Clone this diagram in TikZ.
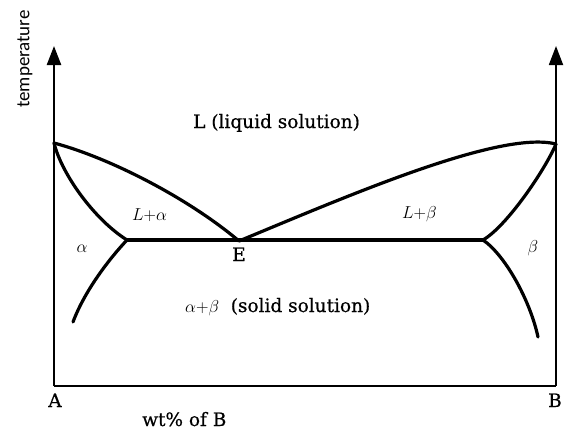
\documentclass[tikz,border=0pt]{standalone}
\usepackage{fontspec}
\setmainfont[FakeBold=0.6]{DejaVu Serif}
\newfontfamily\axisfont{Carlito}
\usetikzlibrary{arrows.meta}
\tikzset{
  curve/.style={line width=3.2pt, line cap=round, line join=round},
  axis/.style={line width=2.4pt, -{Triangle[length=19pt,width=14pt]}},
  lbl/.style={inner sep=0pt, font=\fontsize{18.5}{20}\selectfont},
}
\begin{document}
\begin{tikzpicture}[x=1pt,y=-1pt]
\useasboundingbox (0,0) rectangle (566,429);
% corners and key points
\coordinate (O) at (54,386);
\coordinate (R) at (556,386);
\coordinate (Ltop) at (54,46);
\coordinate (Rtop) at (556,46);
\coordinate (TA) at (54,143);
\coordinate (TB) at (556,144);
\coordinate (Sa) at (127,240);
\coordinate (Sb) at (483,240);
\coordinate (E) at (239,241);
\coordinate (Sa2) at (73,322);
\coordinate (Sb2) at (538,337);
% axes
\draw[axis] (O) -- (Ltop);
\draw[axis, line width=1.8pt] (R) -- (Rtop);
\draw[line width=2.4pt] (O) -- (R);
% liquidus
\draw[curve] (TA) .. controls (110,158) and (188,198) .. (E);
\draw[curve] (E) .. controls (350,195) and (500,130) .. (TB);
% solidus
\draw[curve] (TA) .. controls (62,175) and (95,220) .. (Sa);
\draw[curve] (TB) .. controls (545,170) and (507,226) .. (Sb);
% eutectic line
\draw[curve] (Sa) -- (Sb);
% solvus
\draw[curve] (Sa) .. controls (110,258) and (85,290) .. (Sa2);
\draw[curve] (Sb) .. controls (505,255) and (530,300) .. (Sb2);
% labels
\node[lbl, anchor=base west] (liq) at (193,128) {L (liquid solution)};
\node[lbl, anchor=base west] (la) at (132,220) {$L{+}\alpha$};
\node[lbl, anchor=base west] (lb) at (402,218) {$L{+}\beta$};
\node[lbl, anchor=base] (al) at (82,252) {$\alpha$};
\node[lbl, anchor=base] (be) at (533,252) {$\beta$};
\node[lbl, anchor=base] (El) at (239,261) {E};
\node[lbl, anchor=base west] (sol) at (185,312) {$\alpha{+}\beta$\ \ (solid solution)};
\node[lbl, anchor=base] (Al) at (55,407) {A};
\node[lbl, anchor=base] (Bl) at (555,407) {B};
\node[lbl, anchor=base west] (wt) at (142,426) {wt\% of B};
\node[inner sep=0pt, rotate=90, font=\axisfont\fontsize{19}{21}\selectfont] (temp) at (25,59) {temperature};
\end{tikzpicture}
\end{document}
